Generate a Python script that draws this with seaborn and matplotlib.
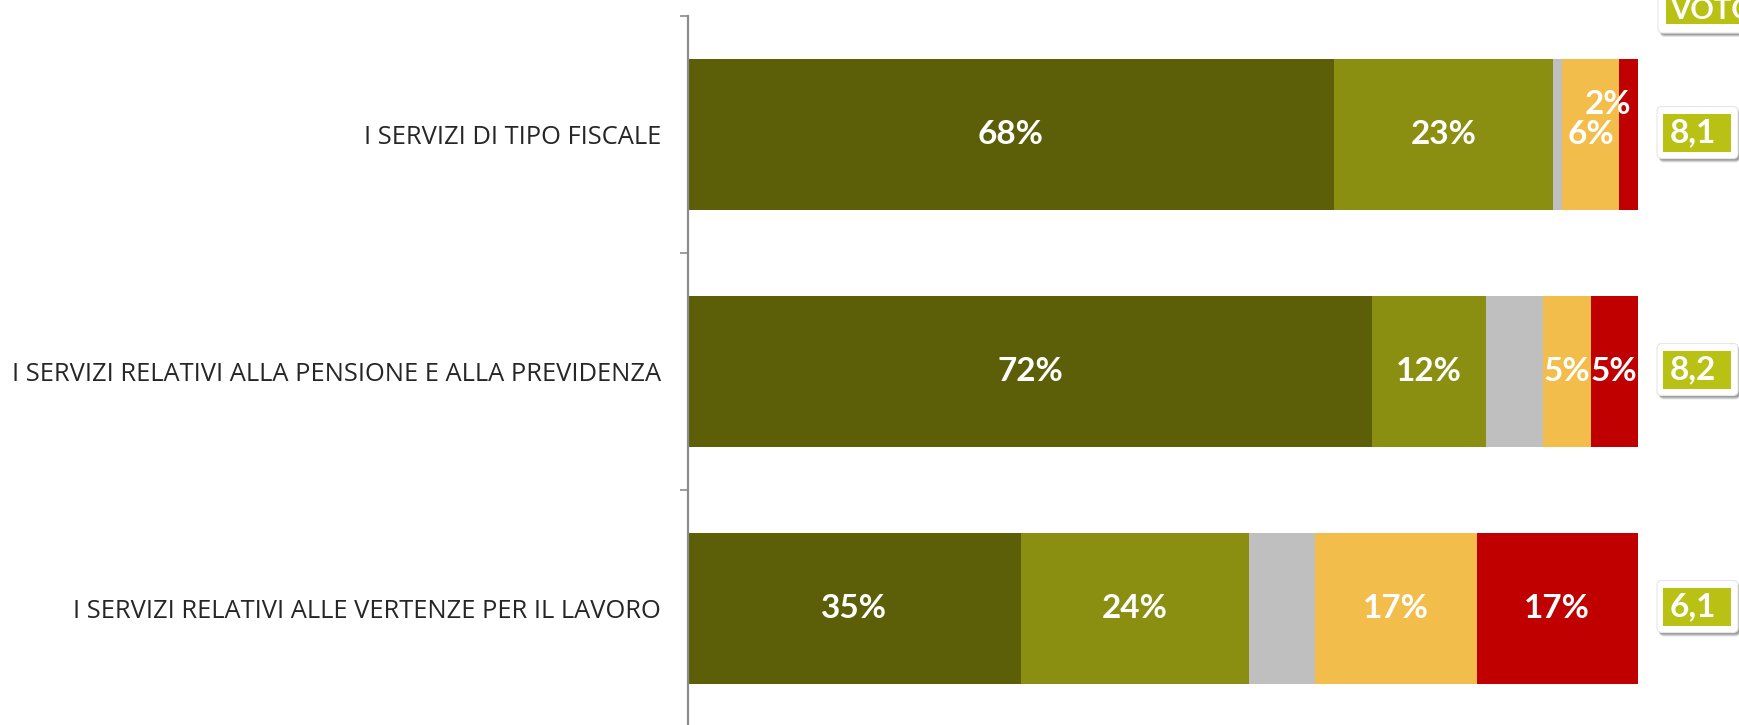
import numpy as np
import pandas as pd
import matplotlib
matplotlib.use("Agg")
import matplotlib.pyplot as plt
import seaborn as sns
from matplotlib.patches import FancyBboxPatch, Rectangle

# ---------------- data ----------------
categories = [
    "I SERVIZI DI TIPO FISCALE",
    "I SERVIZI RELATIVI ALLA PENSIONE E ALLA PREVIDENZA",
    "I SERVIZI RELATIVI ALLE VERTENZE PER IL LAVORO",
]
molto = [68, 72, 35]
abbastanza = [23, 12, 24]
non_sa = [1, 6, 7]
poco = [6, 5, 17]
per_niente = [2, 5, 17]
voto_medio = ["8,1", "8,2", "6,1"]
voto_title = "VOTO MEDIO"

series = [molto, abbastanza, non_sa, poco, per_niente]
series_colors = ["#5C5F08", "#8A8F11", "#BFBFBF", "#F2BD4B", "#C00000"]
show_label = [True, True, False, True, True]
box_green = "#B8C114"

# ---------------- style ----------------
sns.set_theme(style="white")
plt.rcParams["font.family"] = ["Open Sans", "DejaVu Sans"]

W, H = 1739, 725
fig = plt.figure(figsize=(W / 100, H / 100), dpi=100)
ax_left, ax_right = 688, 1638
ax_top, ax_bot = 16, 727
ax = fig.add_axes([ax_left / W, 1 - ax_bot / H, (ax_right - ax_left) / W, (ax_bot - ax_top) / H])

vals = np.array(series, dtype=float).T  # rows = categories
cum = np.cumsum(vals, axis=1)

for k in reversed(range(len(series))):
    df = pd.DataFrame({"cat": categories, "val": cum[:, k]})
    sns.barplot(data=df, x="val", y="cat", orient="h", color=series_colors[k],
                saturation=1, width=0.64, linewidth=0, ax=ax)

ax.set_xlim(0, 100)
ax.set_ylim(2.5, -0.5)
ax.set_xlabel("")
ax.set_ylabel("")
for s in ["top", "right", "bottom"]:
    ax.spines[s].set_visible(False)
ax.spines["left"].set_color("#8C8C8C")
ax.spines["left"].set_linewidth(1.6)
ax.set_xticks([])
ax.set_yticks(range(len(categories)))
ax.set_yticklabels(categories, fontsize=18.4, color="#262626", family=["Open Sans", "DejaVu Sans"])
ax.tick_params(axis="y", which="major", length=0, pad=19.4)
ax.set_yticks([-0.5, 0.5, 1.5, 2.5], minor=True)
ax.tick_params(axis="y", which="minor", left=True, length=5.8, width=1.2, color="#8C8C8C")

# ---------------- segment labels ----------------
lab_font = dict(color="white", fontsize=24, fontweight="bold", family=["Lato", "DejaVu Sans"])
for i in range(len(categories)):
    for k in range(len(series)):
        if not show_label[k]:
            continue
        v = vals[i, k]
        center = cum[i, k] - v / 2
        txt = f"{int(v)}%"
        if v < 3 and k == len(series) - 1:
            ax.annotate(txt, (center, i), xytext=(-15, 21.5), textcoords="offset points",
                        ha="center", va="center", **lab_font)
        else:
            ax.text(center, i, txt, ha="center", va="center", **lab_font)

# ---------------- value boxes (display pixel coords) ----------------
fig.canvas.draw()


def shadowed_box(x0, y0, w, h, z=5):
    for d, a in [(4, 0.10), (3, 0.15), (2, 0.18)]:
        sh = FancyBboxPatch((x0 + 2, y0 - d), w, h, boxstyle="round,pad=0,rounding_size=5",
                            transform=None, facecolor=(0, 0, 0, a), edgecolor="none", zorder=z)
        fig.patches.append(sh)
    box = FancyBboxPatch((x0, y0), w, h, boxstyle="round,pad=0,rounding_size=5",
                         transform=None, facecolor="white", edgecolor="#E6E6E6",
                         linewidth=0.8, zorder=z + 1)
    fig.patches.append(box)


val_font = dict(color="white", fontsize=24, fontweight="bold", family=["Lato", "DejaVu Sans"])
for i, v in enumerate(voto_medio):
    _, yc = ax.transData.transform((100, i))
    yc += 2
    ox = ax.transAxes.transform((1, 0))[0] + 19
    shadowed_box(ox, yc - 26, 81, 52)
    g = Rectangle((ox + 6, yc - 19), 68, 38, transform=None, facecolor=box_green,
                  edgecolor="none", zorder=8)
    fig.patches.append(g)
    fig.text((ox + 13) / W, yc / H, v, ha="left", va="center", zorder=9, **val_font)

# VOTO MEDIO header (partly cut at the top edge, as in the reference)
shadowed_box(1658, H - 33, 120, 60)
fig.patches.append(Rectangle((1666, H - 24), 110, 40, transform=None, facecolor=box_green,
                             edgecolor="none", zorder=8))
fig.text(1670 / W, (H - 19) / H, voto_title, ha="left", va="baseline", zorder=9,
         color="white", fontsize=21, fontweight="bold", family=["Lato", "DejaVu Sans"])

fig.savefig("out.png", dpi=100)
